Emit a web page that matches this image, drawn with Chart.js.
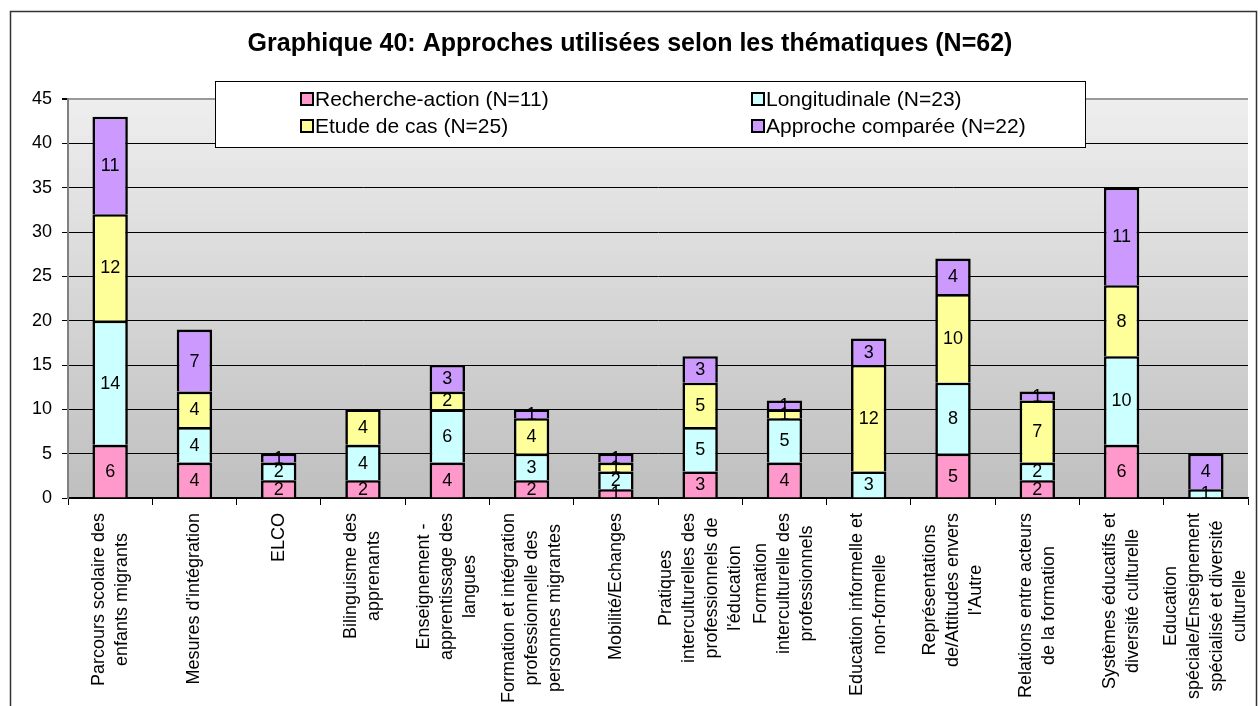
<!DOCTYPE html>
<html>
<head>
<meta charset="utf-8">
<title>Approches utilisées selon les thématiques</title>
<script src="https://cdn.jsdelivr.net/npm/chart.js@4.4.1/dist/chart.umd.min.js"></script>
<style>
  html, body { margin: 0; padding: 0; background: #fff; }
</style>
</head>
<body>
<canvas id="approches" width="1260" height="706"></canvas>
<script>
const FONT = "'Liberation Sans', Arial, Helvetica, sans-serif";

const titre = 'Graphique 40: Approches utilisées selon les thématiques (N=62)';

// one entry per theme, already split into the lines shown under the axis
const thematiques = [
    ['Parcours scolaire des', 'enfants migrants'],
    ["Mesures d'intégration"],
    ['ELCO'],
    ['Bilinguisme des', 'apprenants'],
    ['Enseignement -', 'apprentissage des', 'langues'],
    ['Formation et intégration', 'professionnelle des', 'personnes migrantes'],
    ['Mobilité/Echanges'],
    ['Pratiques', 'interculturelles des', 'professionnels de', "l'éducation"],
    ['Formation', 'interculturelle des', 'professionnels'],
    ['Education informelle et', 'non-formelle'],
    ['Représentations', 'de/Attitudes envers', "l'Autre"],
    ['Relations entre acteurs', 'de la formation'],
    ['Systèmes éducatifs et', 'diversité culturelle'],
    ['Education', 'spéciale/Enseignement', 'spécialisé et diversité', 'culturelle'],
];

const seriesNames = [
    'Recherche-action (N=11)',
    'Longitudinale (N=23)',
    'Etude de cas (N=25)',
    'Approche comparée (N=22)',
];
const seriesColors = ['#ff99cc', '#ccffff', '#ffff99', '#cc99ff'];

const rechercheAction  = [6, 4, 2, 2, 4, 2, 1, 3, 4, 0, 5, 2, 6, 0];
const longitudinale    = [14, 4, 2, 4, 6, 3, 2, 5, 5, 3, 8, 2, 10, 1];
const etudeDeCas       = [12, 4, 0, 4, 2, 4, 1, 5, 1, 12, 10, 7, 8, 0];
const approcheComparee = [11, 7, 1, 0, 3, 1, 1, 3, 1, 3, 4, 1, 11, 4];

const yMax = 45;
const yStep = 5;

// white page, outer frame and the grey gradient behind the plot
const frameAndBackground = {
    id: 'frameAndBackground',
    beforeDraw(chart) {
        const { ctx, chartArea: a } = chart;
        ctx.save();
        ctx.fillStyle = '#fff';
        ctx.fillRect(0, 0, chart.width, chart.height);
        ctx.strokeStyle = '#333';
        ctx.lineWidth = 1.5;
        ctx.strokeRect(10.5, 11.5, 1246, 720);
        const g = ctx.createLinearGradient(0, a.top, 0, a.bottom);
        g.addColorStop(0, '#eeeeee');
        g.addColorStop(1, '#bfbfbf');
        ctx.fillStyle = g;
        ctx.fillRect(a.left, a.top, a.right - a.left, a.bottom - a.top);
        ctx.restore();
    }
};

// value written in the middle of each stacked segment
const segmentValues = {
    id: 'segmentValues',
    afterDatasetsDraw(chart) {
        const { ctx } = chart;
        ctx.save();
        ctx.font = `18px ${FONT}`;
        ctx.fillStyle = '#000';
        ctx.textAlign = 'center';
        ctx.textBaseline = 'middle';
        chart.data.datasets.forEach((ds, di) => {
            chart.getDatasetMeta(di).data.forEach((bar, i) => {
                const v = ds.data[i];
                if (!v) return;
                ctx.fillText(String(v), bar.x, (bar.y + bar.base) / 2 + 1);
            });
        });
        ctx.restore();
    }
};

// rotated, centred multi-line category names
const categoryLabels = {
    id: 'categoryLabels',
    afterDraw(chart) {
        const { ctx } = chart;
        const x = chart.scales.x;
        const lh = 23;
        ctx.save();
        ctx.font = `18px ${FONT}`;
        ctx.fillStyle = '#000';
        ctx.textAlign = 'center';
        ctx.textBaseline = 'middle';
        thematiques.forEach((lines, i) => {
            const px = x.getPixelForValue(i);
            const w = Math.max(...lines.map(l => ctx.measureText(l).width));
            ctx.save();
            ctx.translate(px, x.top + 15);
            ctx.rotate(-Math.PI / 2);
            lines.forEach((l, j) => ctx.fillText(l, -w / 2, (j - (lines.length - 1) / 2) * lh));
            ctx.restore();
        });
        ctx.restore();
    }
};

// title and the boxed two-column legend
const titleAndLegend = {
    id: 'titleAndLegend',
    afterDraw(chart) {
        const { ctx } = chart;
        ctx.save();
        ctx.fillStyle = '#000';
        ctx.font = `bold 25px ${FONT}`;
        ctx.textAlign = 'center';
        ctx.textBaseline = 'middle';
        ctx.fillText(titre, 630, 44);

        ctx.fillStyle = '#fff';
        ctx.fillRect(215, 81, 870, 66);
        ctx.strokeStyle = '#000';
        ctx.lineWidth = 1;
        ctx.strokeRect(215.5, 81.5, 870, 66);

        const slots = [[301, 99], [752, 99], [301, 126], [752, 126]];
        ctx.font = `21px ${FONT}`;
        ctx.textAlign = 'left';
        chart.data.datasets.forEach((ds, i) => {
            const [lx, ly] = slots[i];
            ctx.fillStyle = ds.backgroundColor;
            ctx.fillRect(lx, ly - 6, 12, 12);
            ctx.strokeStyle = '#000';
            ctx.lineWidth = 2;
            ctx.strokeRect(lx, ly - 6, 12, 12);
            ctx.fillStyle = '#000';
            ctx.fillText(ds.label, lx + 14, ly + 1);
        });
        ctx.restore();
    }
};

const series = [rechercheAction, longitudinale, etudeDeCas, approcheComparee];

new Chart(document.getElementById('approches'), {
    type: 'bar',
    data: {
        labels: thematiques.map(l => l.join(' ')),
        datasets: series.map((data, i) => ({
            label: seriesNames[i],
            data: data,
            backgroundColor: seriesColors[i],
            borderColor: '#000',
            borderWidth: 2.6,
            borderSkipped: 'start',
            barPercentage: 0.42,
            categoryPercentage: 1,
        }))
    },
    options: {
        responsive: false,
        animation: false,
        layout: { padding: { top: 99, right: 12, left: 0, bottom: 0 } },
        plugins: {
            legend: { display: false },
            title: { display: false },
            tooltip: { enabled: false },
        },
        scales: {
            x: {
                stacked: true,
                ticks: { display: false },
                grid: {
                    offset: true,
                    drawOnChartArea: false,
                    tickLength: 7,
                    color: '#000',
                },
                border: { color: '#000', width: 1.5 },
                afterFit(scale) { scale.height = 208; },
            },
            y: {
                stacked: true,
                min: 0,
                max: yMax,
                ticks: {
                    stepSize: yStep,
                    padding: 10,
                    color: '#000',
                    font: { family: FONT, size: 18 },
                },
                grid: {
                    color: ctx => (ctx.tick && ctx.tick.value === yMax ? '#9a9a9a' : '#000'),
                    tickColor: '#000',
                    tickLength: 6,
                    lineWidth: ctx => (ctx.tick && ctx.tick.value === yMax ? 2 : 1),
                },
                border: { color: '#808080', width: 2 },
                afterFit(scale) { scale.width = 68; },
            }
        }
    },
    plugins: [frameAndBackground, segmentValues, categoryLabels, titleAndLegend]
});
</script>
</body>
</html>
